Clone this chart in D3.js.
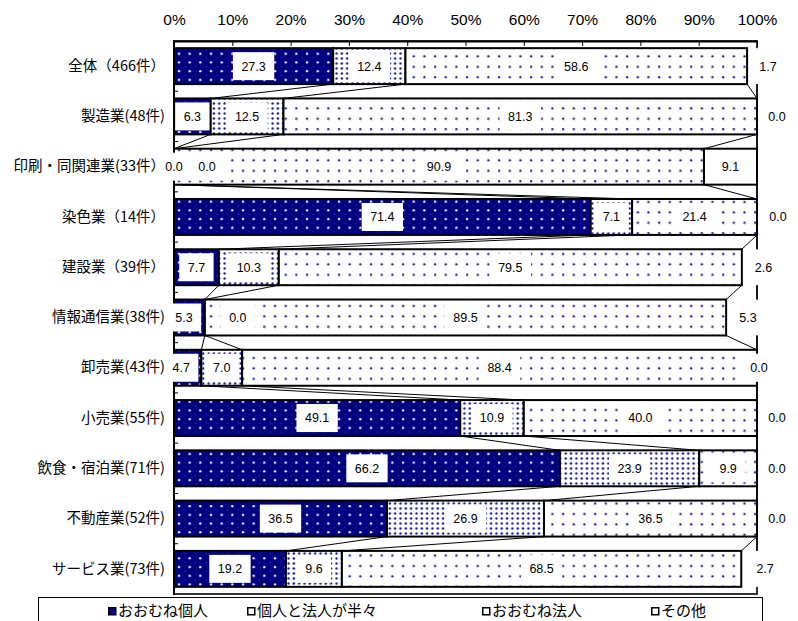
<!DOCTYPE html>
<html>
<head>
<meta charset="utf-8">
<script src="https://cdn.jsdelivr.net/npm/d3@7"></script>
<style>
  html, body { margin: 0; padding: 0; background: #fff; }
  svg { display: block; }
  .num { font-family: "Liberation Sans", Arial, sans-serif; }
  .jp { font-family: "Noto Sans CJK JP", sans-serif; }
</style>
</head>
<body>
<svg id="chart" width="798" height="621"></svg>
<script>
// 業種別の回答構成比（横 100% 積み上げ棒）
const categories = [
  "全体（466件）", "製造業(48件)", "印刷・同関連業(33件）", "染色業（14件）", "建設業（39件）",
  "情報通信業(38件)", "卸売業(43件)", "小売業(55件)", "飲食・宿泊業(71件)", "不動産業(52件)", "サービス業(73件)"
];
const seriesNames = ["おおむね個人", "個人と法人が半々", "おおむね法人", "その他"];
const kojin  = [27.3, 6.3, 0.0, 71.4, 7.7, 5.3, 4.7, 49.1, 66.2, 36.5, 19.2];
const hanhan = [12.4, 12.5, 0.0, 7.1, 10.3, 0.0, 7.0, 10.9, 23.9, 26.9, 9.6];
const hojin  = [58.6, 81.3, 90.9, 21.4, 79.5, 89.5, 88.4, 40.0, 9.9, 36.5, 68.5];
const sonota = [1.7, 0.0, 9.1, 0.0, 2.6, 5.3, 0.0, 0.0, 0.0, 0.0, 2.7];
const tickValues = [0, 10, 20, 30, 40, 50, 60, 70, 80, 90, 100];

const seriesValues = [kojin, hanhan, hojin, sonota];

const svg = d3.select("#chart");
const plot = { left: 174, right: 757, top: 41, bottom: 594 };

const x = d3.scaleLinear().domain([0, 100]).range([plot.left, plot.right]);
const y = d3.scaleBand().domain(categories)
  .range([plot.top, plot.bottom])
  .paddingInner(0.285).paddingOuter(0.1425);

// 塗りパターン
const defs = svg.append("defs");
function dotPattern(id, w, h, bg, dots) {
  const p = defs.append("pattern").attr("id", id)
    .attr("patternUnits", "userSpaceOnUse")
    .attr("x", plot.left).attr("y", plot.top)
    .attr("width", w).attr("height", h);
  p.append("rect").attr("width", w).attr("height", h).attr("fill", bg);
  dots.forEach(d => p.append("circle").attr("cx", d[0]).attr("cy", d[1]).attr("r", d[2])
    .attr("fill", d[3]).attr("opacity", d[4] == null ? 1 : d[4]));
}
dotPattern("pat-kojin", 10.67, 8.7, "#000080", [[5, 4, 1.15, "#ffffff"], [0.3, 8.4, 0.6, "#ffffff", 0.35]]);
dotPattern("pat-han", 5.33, 5, "#ffffff", [[2.6, 2.5, 1.2, "#1c1c9c"]]);
dotPattern("pat-hojin", 10.67, 10.4, "#ffffff", [[5, 5, 1.15, "#2222a0"]]);

const fills = ["url(#pat-kojin)", "url(#pat-han)", "url(#pat-hojin)", "#ffffff"];
// その他で枠線を持つ点
const outlinedOther = new Set(["印刷・同関連業(33件）"]);

// 累積位置（100% に正規化）
const rows = categories.map((c, i) => {
  const vals = seriesValues.map(s => s[i]);
  const total = d3.sum(vals);
  let acc = 0;
  const segs = vals.map((v, k) => {
    const s = acc / total * 100;
    acc += v;
    return { cat: c, row: i, k, value: v, start: s, end: acc / total * 100 };
  });
  return { cat: c, segs };
});

// プロットエリア枠
svg.append("rect")
  .attr("x", plot.left).attr("y", plot.top)
  .attr("width", plot.right - plot.left).attr("height", plot.bottom - plot.top)
  .attr("fill", "none").attr("stroke", "#000").attr("stroke-width", 1.6);

// 棒（その他を先に、白塗りで枠を覆う）
const barG = svg.append("g");
rows.forEach(r => {
  const s = r.segs[3];
  if (s.end - s.start > 0) {
    const outlined = outlinedOther.has(r.cat);
    barG.append("rect")
      .attr("x", x(s.start)).attr("y", y(r.cat))
      .attr("width", x(s.end) - x(s.start) + (outlined ? 0 : 1.5))
      .attr("height", y.bandwidth())
      .attr("fill", "#fff")
      .attr("stroke", outlined ? "#000" : "none")
      .attr("stroke-width", 2);
  }
});
rows.forEach(r => {
  r.segs.slice(0, 3).forEach(s => {
    if (s.end - s.start <= 0) return;
    barG.append("rect")
      .attr("x", x(s.start)).attr("y", y(r.cat))
      .attr("width", x(s.end) - x(s.start)).attr("height", y.bandwidth())
      .attr("fill", fills[s.k]).attr("stroke", "#000").attr("stroke-width", 2);
  });
});

// 区分線
const lineG = svg.append("g").attr("stroke", "#000").attr("stroke-width", 1);
for (let i = 0; i < rows.length - 1; i++) {
  const a = rows[i], b = rows[i + 1];
  for (let k = 0; k < 4; k++) {
    lineG.append("line")
      .attr("x1", x(a.segs[k].end)).attr("y1", y(a.cat) + y.bandwidth())
      .attr("x2", x(b.segs[k].end)).attr("y2", y(b.cat));
  }
}

// 上側の目盛軸
const xAxis = d3.axisTop(x).tickValues(tickValues).tickFormat(d => d + "%")
  .tickSizeInner(-5).tickSizeOuter(0).tickPadding(16);
const xg = svg.append("g").attr("transform", `translate(0,${plot.top})`).call(xAxis);
xg.select(".domain").attr("stroke", "#000").attr("stroke-width", 2);
xg.selectAll(".tick line").attr("stroke", "#000").attr("stroke-width", 1);
xg.selectAll(".tick text").attr("class", "num").attr("font-size", 15.5).attr("fill", "#000");

// 左側の項目軸の線と区切り目盛
svg.append("line")
  .attr("x1", plot.left).attr("x2", plot.left)
  .attr("y1", plot.top - 1).attr("y2", plot.bottom + 1)
  .attr("stroke", "#000").attr("stroke-width", 2);
for (let i = 1; i < categories.length; i++) {
  const yy = plot.top + y.step() * i;
  svg.append("line").attr("x1", plot.left).attr("x2", plot.left + 4)
    .attr("y1", yy).attr("y2", yy).attr("stroke", "#000").attr("stroke-width", 1);
}

// データラベルの位置調整（区間中心からのずらし量）
const labelShift = {
  "0-3": 16, "1-3": 20, "2-1": 33, "3-3": 21, "4-3": 14,
  "5-0": -5.5, "5-1": 33, "5-3": 6.5, "6-0": -6.5, "6-3": 2,
  "7-3": 20, "8-3": 20, "9-3": 20, "10-3": 16
};

const labelG = svg.append("g");
rows.forEach(r => {
  r.segs.forEach(s => {
    const cx = (x(s.start) + x(s.end)) / 2 + (labelShift[`${s.row}-${s.k}`] || 0);
    const cy = y(r.cat) + y.bandwidth() / 2;
    const g = labelG.append("g");
    const box = g.append("rect").attr("fill", "#fff");
    const t = g.append("text").attr("class", "num")
      .attr("x", cx).attr("y", cy).attr("dy", "0.35em")
      .attr("text-anchor", "middle").attr("font-size", 12.5).attr("fill", "#000")
      .text(s.value.toFixed(1));
    const w = t.node().getComputedTextLength() + 17;
    box.attr("x", cx - w / 2).attr("y", cy - 14).attr("width", w).attr("height", 28);
  });
});

// 項目名（ラベルより前面）
const yAxis = d3.axisLeft(y).tickSize(0).tickPadding(9);
const yg = svg.append("g").attr("transform", `translate(${plot.left},0)`).call(yAxis);
yg.select(".domain").remove();
yg.selectAll(".tick text").attr("class", "jp").attr("font-size", 14.5).attr("fill", "#000");

// 凡例
const legend = svg.append("g");
legend.append("rect").attr("x", 38.5).attr("y", 597.5).attr("width", 724).attr("height", 30)
  .attr("fill", "#fff").attr("stroke", "#000").attr("stroke-width", 1);
const legendX = [108, 247, 482, 651];
seriesNames.forEach((name, k) => {
  legend.append("rect").attr("x", legendX[k] + 0.75).attr("y", 607.75)
    .attr("width", 7).attr("height", 7)
    .attr("fill", k === 0 ? "#000080" : "#fff").attr("stroke", "#000").attr("stroke-width", 1.5);
  legend.append("text").attr("class", "jp")
    .attr("x", legendX[k] + 10).attr("y", 611).attr("dy", "0.36em")
    .attr("font-size", 15).attr("fill", "#000").text(name);
});
</script>
</body>
</html>
